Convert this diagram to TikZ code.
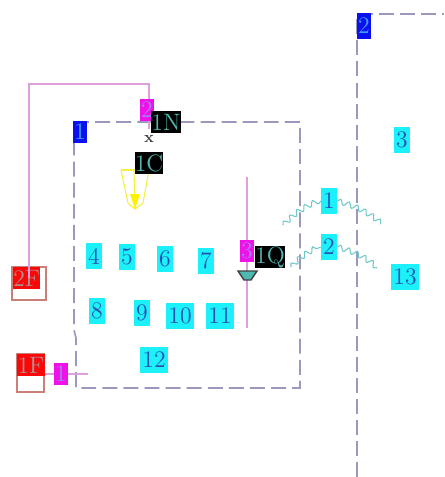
\documentclass[tikz,border=0pt]{standalone}
\usepackage{xcolor}
\usetikzlibrary{positioning, arrows.meta, decorations.pathmorphing}

\definecolor{framegray}{HTML}{9A98BC}
\definecolor{pinkline}{HTML}{DDA0DD}
\definecolor{cyanbox}{HTML}{1CF0F8}
\definecolor{digitblue}{HTML}{2A4FB5}
\definecolor{tealtxt}{HTML}{4FB8B0}
\definecolor{waveteal}{HTML}{6FC8C8}
\definecolor{portfill}{HTML}{F010E8}
\definecolor{porttxt}{HTML}{A080F0}
\definecolor{zonefill}{HTML}{0A10F0}
\definecolor{zonetxt}{HTML}{40A0F0}
\definecolor{floorred}{HTML}{FA0808}
\definecolor{floortxt}{HTML}{B09090}
\definecolor{casebrown}{HTML}{C88078}
\definecolor{funnel}{HTML}{F4F040}

\begin{document}
\begin{tikzpicture}[
  x=0.02cm, y=-0.02cm,
  tag/.style={inner sep=0pt, align=center, font=\fontsize{13.5}{13.5}\selectfont},
  num/.style={tag, fill=cyanbox, text=digitblue, minimum width=9pt, minimum height=14.5pt},
  numwide/.style={num, minimum width=15.5pt},
  zone/.style={tag, fill=zonefill, text=zonetxt, minimum width=8pt, minimum height=13pt},
  port/.style={tag, fill=portfill, text=porttxt, minimum width=8pt, minimum height=12.5pt},
  code/.style={tag, fill=black, text=tealtxt, minimum width=15.5pt, minimum height=12.5pt},
  floorbox/.style={tag, fill=floorred, text=floortxt, minimum height=12.5pt, anchor=north west},
  floorcase/.style={draw=casebrown, line width=0.7pt},
  frame/.style={draw=framegray, line width=0.9pt, dash pattern=on 8.5pt off 3.5pt},
  riser/.style={draw=pinkline, line width=1pt},
  wave/.style={draw=waveteal, line width=0.6pt, decorate, decoration={snake, amplitude=1.5pt, segment length=5pt}}
]
  \useasboundingbox (0,0) rectangle (444,477);

  % frames
  \draw[frame] (74,122) -- (300,122) -- (300,388) -- (76,388) -- (76,338) -- (74,330) -- cycle;
  \draw[frame] (357,477) -- (357,14) -- (444,14);

  % floor boxes
  \draw[floorcase] (12,267) rectangle (46,300);
  \draw[floorcase] (17,354) rectangle (44,392);
  \node[floorbox, minimum width=15pt] (f2) at (13,267) {2F};
  \node[floorbox, minimum width=15.5pt] (f1) at (17,354) {1F};

  % funnel
  \draw[funnel, line width=0.6pt] (121,170) -- (128,203) -- (135,209) -- (143,203) -- (149,170);
  \draw[funnel, line width=0.6pt] (121,170) -- (149,170);
  \draw[funnel, line width=0.6pt] (134,170) -- (135,209);
  \fill[yellow] (130,194) -- (140,194) -- (135,209) -- cycle;

  % tags
  \node[zone] (z1) at (80,132) {1};
  \node[zone, minimum height=14.5pt] (z2) at (364,26) {2};
  \node[port] (p2) at (147,110) {2};
  \node[port] (p3) at (247,251) {3};
  \node[port] (p1) at (61,374) {1};
  \node[code] (c1n) at (166,122) {1N};
  \node[code] (c1c) at (149,163) {1C};
  \node[code] (c1q) at (270,257) {1Q};

  \node[num] (n1) at (329,201) {1};
  \node[num] (n2) at (329,247) {2};
  \node[num] (n3) at (402,140) {3};
  \node[num] (n4) at (94,256) {4};
  \node[num] (n5) at (127,257) {5};
  \node[num] (n6) at (165,259) {6};
  \node[num] (n7) at (206,261) {7};
  \node[num] (n8) at (97,311) {8};
  \node[num] (n9) at (142,313) {9};
  \node[numwide] (n10) at (180,316) {10};
  \node[numwide] (n11) at (220,316) {11};
  \node[numwide] (n12) at (154,360) {12};
  \node[numwide] (n13) at (405,277) {13};

  % free ends
  \coordinate (w1a) at (283,225);
  \coordinate (w1b) at (381,224);
  \coordinate (w2a) at (291,267);
  \coordinate (w2b) at (377,268);
  \coordinate (r3a) at (247,177);
  \coordinate (r3b) at (247,328);
  \coordinate (r1b) at (88,374);
  \coordinate (cw) at (29,84);
  \coordinate (ce) at (149,84);

  % risers
  \draw[riser] (cw |- f2.center) -- (cw) -- (ce) -- (p2.north -| ce);
  \draw[riser] (p2.south -| ce) -- ++(0,8);
  \draw[riser] (r3a) -- (p3);
  \draw[riser] (p3) -- (r3b);
  \draw[riser] (f1.east |- p1) -- (p1);
  \draw[riser] (p1) -- (r1b);

  % marks
  \node[font=\fontsize{9}{9}\selectfont\bfseries, inner sep=0pt, text=black!75] (mk) at (149,139) {x};
  \draw[black!75, fill=tealtxt, line width=0.8pt] (238,271) -- (257,271) -- (251,280) -- (244,280) -- cycle;

  % waves
  \draw[wave] (w1a) to[bend left=12] (n1.west);
  \draw[wave] (n1.east) to[bend left=12] (w1b);
  \draw[wave] (w2a) to[bend left=12] (n2.west);
  \draw[wave] (n2.east) to[bend left=12] (w2b);
\end{tikzpicture}
\end{document}
